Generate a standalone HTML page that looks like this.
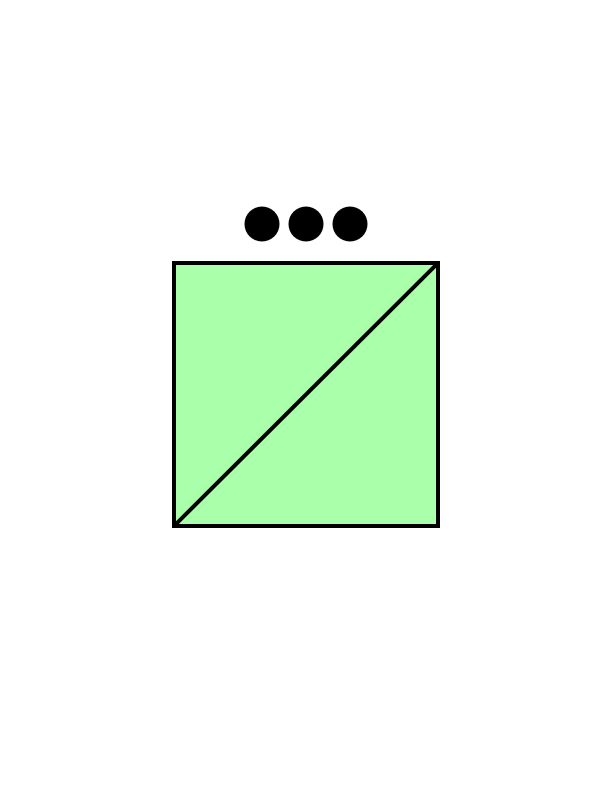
<!DOCTYPE html>
<html><head><meta charset="utf-8"><style>html,body{margin:0;padding:0;background:#fff;width:612px;height:792px;overflow:hidden}</style></head>
<body>
<svg width="612" height="792" viewBox="0 0 612 792">
<circle cx="262" cy="224" r="17.5" fill="#000"/>
<circle cx="306" cy="224" r="17.5" fill="#000"/>
<circle cx="350" cy="224" r="17.5" fill="#000"/>
<rect x="174" y="263" width="264" height="263" fill="#aaffaa" stroke="#000" stroke-width="4"/>
<line x1="174" y1="526" x2="438" y2="263" stroke="#000" stroke-width="4"/>
</svg>
</body></html>
